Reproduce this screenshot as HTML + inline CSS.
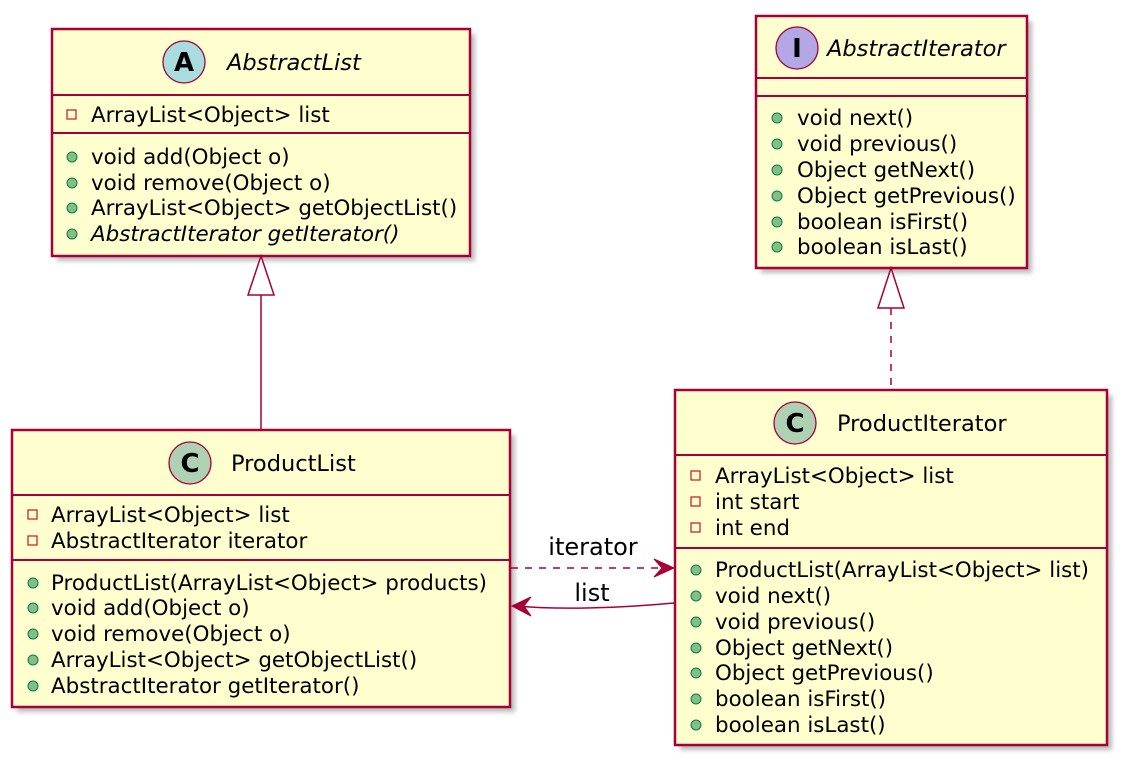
<!DOCTYPE html>
<html><head><meta charset="utf-8"><style>
body{margin:0;background:#fff}
svg{display:block}
text{font-family:"DejaVu Sans","Liberation Sans",sans-serif;font-size:21.4px;fill:#000}
.h{font-size:22.5px}
.box{fill:#FEFECE;stroke:#A80036;stroke-width:2.5}
.sh{fill:#bbb;filter:url(#b)}
.sep{stroke:#A80036;stroke-width:2}
.pub{fill:#84BE84;stroke:#038048;stroke-width:1}
.priv{fill:none;stroke:#C82930;stroke-width:1.3}
</style></head><body>
<svg width="1127" height="765" viewBox="0 0 1127 765">
<defs><filter id="b"><feGaussianBlur stdDeviation="2.5"/></filter></defs>
<rect class="sh" x="57" y="34" width="418" height="227"/>
<rect class="sh" x="761" y="21" width="271" height="252"/>
<rect class="sh" x="17" y="435" width="498" height="277"/>
<rect class="sh" x="680" y="395" width="432" height="355"/>

<!-- AbstractList -->
<rect class="box" x="52" y="29" width="418" height="227"/>
<circle cx="184" cy="62" r="21" fill="#A9DCDF" stroke="#A80036" stroke-width="1.3"/>
<text x="184" y="71" text-anchor="middle" style="font-weight:bold;font-size:26px">A</text>
<text class="h" x="227" y="70" style="font-style:italic">AbstractList</text>
<line class="sep" x1="52" y1="95" x2="470" y2="95"/>
<rect class="priv" x="67" y="110" width="9" height="9"/>
<text x="91" y="122">ArrayList&lt;Object&gt; list</text>
<line class="sep" x1="52" y1="133" x2="470" y2="133"/>
<circle class="pub" cx="72" cy="157" r="5"/><text x="91" y="164">void add(Object o)</text>
<circle class="pub" cx="72" cy="183" r="5"/><text x="91" y="190">void remove(Object o)</text>
<circle class="pub" cx="72" cy="208" r="5"/><text x="91" y="215">ArrayList&lt;Object&gt; getObjectList()</text>
<circle class="pub" cx="72" cy="234" r="5"/><text x="91" y="241" style="font-style:italic">AbstractIterator getIterator()</text>

<!-- AbstractIterator -->
<rect class="box" x="756" y="16" width="271" height="252"/>
<circle cx="797" cy="48" r="21" fill="#B4A7E5" stroke="#A80036" stroke-width="1.3"/>
<text x="797" y="57" text-anchor="middle" style="font-weight:bold;font-size:26px">I</text>
<text class="h" x="827" y="56" style="font-style:italic">AbstractIterator</text>
<line class="sep" x1="756" y1="78" x2="1027" y2="78"/>
<line class="sep" x1="756" y1="96" x2="1027" y2="96"/>
<circle class="pub" cx="777" cy="118" r="5"/><text x="797" y="125">void next()</text>
<circle class="pub" cx="777" cy="144" r="5"/><text x="797" y="151">void previous()</text>
<circle class="pub" cx="777" cy="170" r="5"/><text x="797" y="177">Object getNext()</text>
<circle class="pub" cx="777" cy="196" r="5"/><text x="797" y="203">Object getPrevious()</text>
<circle class="pub" cx="777" cy="222" r="5"/><text x="797" y="229">boolean isFirst()</text>
<circle class="pub" cx="777" cy="247" r="5"/><text x="797" y="254">boolean isLast()</text>

<!-- ProductList -->
<rect class="box" x="12" y="430" width="498" height="277"/>
<circle cx="190" cy="463" r="21" fill="#ADD1B2" stroke="#A80036" stroke-width="1.3"/>
<text x="190" y="472" text-anchor="middle" style="font-weight:bold;font-size:26px">C</text>
<text class="h" x="231" y="471">ProductList</text>
<line class="sep" x1="12" y1="495" x2="510" y2="495"/>
<rect class="priv" x="28" y="510" width="9" height="9"/><text x="51" y="522">ArrayList&lt;Object&gt; list</text>
<rect class="priv" x="28" y="536" width="9" height="9"/><text x="51" y="548">AbstractIterator iterator</text>
<line class="sep" x1="12" y1="560" x2="510" y2="560"/>
<circle class="pub" cx="33" cy="583" r="5"/><text x="51" y="590">ProductList(ArrayList&lt;Object&gt; products)</text>
<circle class="pub" cx="33" cy="608" r="5"/><text x="51" y="615">void add(Object o)</text>
<circle class="pub" cx="33" cy="634" r="5"/><text x="51" y="641">void remove(Object o)</text>
<circle class="pub" cx="33" cy="660" r="5"/><text x="51" y="667">ArrayList&lt;Object&gt; getObjectList()</text>
<circle class="pub" cx="33" cy="686" r="5"/><text x="51" y="693">AbstractIterator getIterator()</text>

<!-- ProductIterator -->
<rect class="box" x="675" y="390" width="432" height="355"/>
<circle cx="795" cy="423" r="21" fill="#ADD1B2" stroke="#A80036" stroke-width="1.3"/>
<text x="795" y="432" text-anchor="middle" style="font-weight:bold;font-size:26px">C</text>
<text class="h" x="837" y="431">ProductIterator</text>
<line class="sep" x1="675" y1="455" x2="1107" y2="455"/>
<rect class="priv" x="691" y="471" width="9" height="9"/><text x="715" y="483">ArrayList&lt;Object&gt; list</text>
<rect class="priv" x="691" y="497" width="9" height="9"/><text x="715" y="509">int start</text>
<rect class="priv" x="691" y="523" width="9" height="9"/><text x="715" y="535">int end</text>
<line class="sep" x1="675" y1="548" x2="1107" y2="548"/>
<circle class="pub" cx="696" cy="570" r="5"/><text x="715" y="577">ProductList(ArrayList&lt;Object&gt; list)</text>
<circle class="pub" cx="696" cy="596" r="5"/><text x="715" y="603">void next()</text>
<circle class="pub" cx="696" cy="622" r="5"/><text x="715" y="629">void previous()</text>
<circle class="pub" cx="696" cy="648" r="5"/><text x="715" y="655">Object getNext()</text>
<circle class="pub" cx="696" cy="673" r="5"/><text x="715" y="680">Object getPrevious()</text>
<circle class="pub" cx="696" cy="699" r="5"/><text x="715" y="706">boolean isFirst()</text>
<circle class="pub" cx="696" cy="725" r="5"/><text x="715" y="732">boolean isLast()</text>

<!-- edges -->
<line x1="261" y1="295" x2="261" y2="430" stroke="#A80036" stroke-width="1.5"/>
<polygon points="261,256 248,295 274,295" fill="#fff" stroke="#A80036" stroke-width="1.5"/>
<line x1="891" y1="308" x2="891" y2="390" stroke="#A80036" stroke-width="1.5" stroke-dasharray="7,7"/>
<polygon points="891,268 878,308 904,308" fill="#fff" stroke="#A80036" stroke-width="1.5"/>
<line x1="511" y1="568" x2="670" y2="568" stroke="#A80036" stroke-width="1.5" stroke-dasharray="7,7"/>
<polygon points="674,568 654,559 662,568 654,577" fill="#A80036" stroke="#A80036"/>
<path d="M674,603 C620,608 560,610 516,606" fill="none" stroke="#A80036" stroke-width="1.5"/>
<polygon points="512,606 531,597 524,606 531,616" fill="#A80036" stroke="#A80036"/>
<text x="593" y="555" text-anchor="middle" style="font-size:24px">iterator</text>
<text x="592" y="601" text-anchor="middle" style="font-size:24px">list</text>
</svg>
</body></html>
